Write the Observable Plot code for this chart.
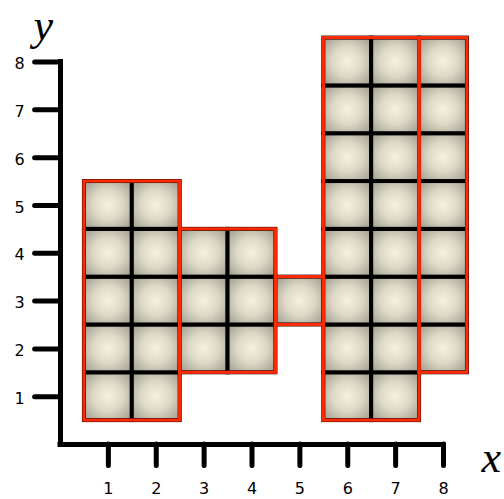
<!DOCTYPE html>
<html>
<head>
<meta charset="utf-8">
<script src="https://cdn.jsdelivr.net/npm/d3@7"></script>
<script src="https://cdn.jsdelivr.net/npm/@observablehq/plot@0.6"></script>
<style>
  html, body { margin: 0; padding: 0; background: #fff; }
</style>
</head>
<body>
<div id="chart"></div>
<script>
// Columns of unit cells: x position, lowest and highest y
const colX    = [1, 2, 3, 4, 5, 6, 7, 8];
const colLow  = [1, 1, 2, 2, 3, 1, 1, 2];
const colHigh = [5, 5, 4, 4, 3, 8, 8, 8];
// Outlined groups of columns (red borders)
const groupStart = [1, 3, 5, 6, 8];
const groupEnd   = [2, 4, 5, 7, 8];
const groupLow   = [1, 2, 3, 1, 2];
const groupHigh  = [5, 4, 3, 8, 8];
// Tick labels
const xTicks = [1, 2, 3, 4, 5, 6, 7, 8];
const yTicks = [1, 2, 3, 4, 5, 6, 7, 8];

const cells = [];
colX.forEach((x, i) => {
  for (let y = colLow[i]; y <= colHigh[i]; y++) cells.push({x, y});
});
const groups = groupStart.map((s, i) => ({
  x1: s - 0.5, x2: groupEnd[i] + 0.5, y1: groupLow[i] - 0.5, y2: groupHigh[i] + 0.5
}));

const tickFont = "'DejaVu Sans', 'Lucida Grande', sans-serif";
const titleFont = "'Liberation Serif', 'DejaVu Serif', serif";

const plot = Plot.plot({
  width: 504,
  height: 499,
  marginLeft: 60,
  marginRight: 61,
  marginTop: 61.5,
  marginBottom: 55,
  x: {domain: [0, 8], axis: null},
  y: {domain: [0, 8], axis: null},
  style: {background: "#fff", overflow: "visible"},
  marks: [
    // cells with black grid lines
    Plot.rect(cells, {
      x1: d => d.x - 0.5, x2: d => d.x + 0.5,
      y1: d => d.y - 0.5, y2: d => d.y + 0.5,
      fill: "url(#cellGrad)", stroke: "#000", strokeWidth: 4
    }),
    // red group outlines
    Plot.rect(groups, {
      x1: "x1", x2: "x2", y1: "y1", y2: "y2",
      fill: "none", stroke: "#fa2a04", strokeWidth: 3.2
    }),
    // axis lines
    Plot.ruleX([0], {y1: 0, y2: 8, stroke: "#000", strokeWidth: 5, strokeLinecap: "square"}),
    Plot.ruleY([0], {x1: 0, x2: 8, stroke: "#000", strokeWidth: 5, strokeLinecap: "square"}),
    // ticks
    Plot.ruleX(xTicks, {y1: 0, y2: -0.45, stroke: "#000", strokeWidth: 5, strokeLinecap: "round"}),
    Plot.ruleY(yTicks, {x1: 0, x2: -0.53, stroke: "#000", strokeWidth: 5, strokeLinecap: "round"}),
    // tick labels
    Plot.text(xTicks, {x: d => d, y: 0, dy: 44, text: d => String(d), fontSize: 16, fontFamily: tickFont, fill: "#000"}),
    Plot.text(yTicks, {x: 0, y: d => d, dx: -41, dy: 2, text: d => String(d), fontSize: 16, fontFamily: tickFont, fill: "#000"}),
    // axis titles
    Plot.text(["y"], {x: -0.36, y: 8.76, text: d => d, fontSize: 44, fontStyle: "italic", fontFamily: titleFont, fill: "#000"}),
    Plot.text(["x"], {x: 9.0, y: -0.28, text: d => d, fontSize: 44, fontStyle: "italic", fontFamily: titleFont, fill: "#000"})
  ]
});

// gradient definition for the cell fills
const ns = "http://www.w3.org/2000/svg";
const defs = document.createElementNS(ns, "defs");
const grad = document.createElementNS(ns, "radialGradient");
grad.setAttribute("id", "cellGrad");
grad.setAttribute("cx", "50%");
grad.setAttribute("cy", "50%");
grad.setAttribute("r", "70%");
[["0%", "#f6f2de"], ["45%", "#dcd8c5"], ["100%", "#9a998c"]].forEach(([o, c]) => {
  const s = document.createElementNS(ns, "stop");
  s.setAttribute("offset", o);
  s.setAttribute("stop-color", c);
  grad.appendChild(s);
});
defs.appendChild(grad);
plot.insertBefore(defs, plot.firstChild);

document.getElementById("chart").appendChild(plot);
</script>
</body>
</html>
